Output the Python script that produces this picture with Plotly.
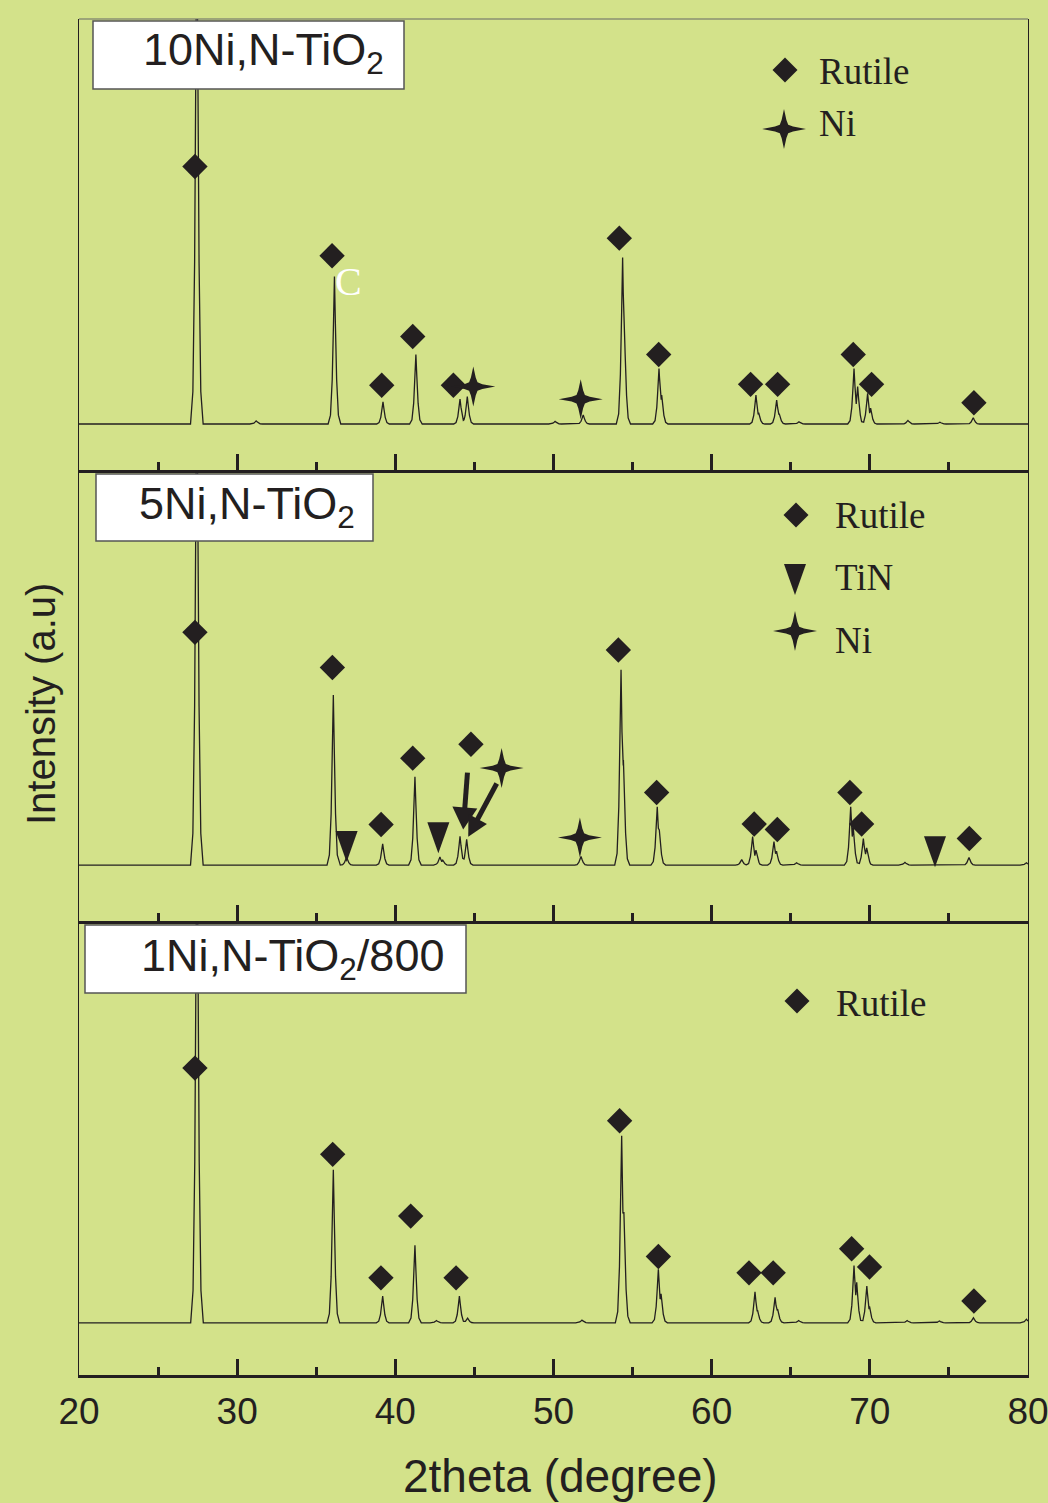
import numpy as np
import plotly.graph_objects as go

# ---------------------------------------------------------------- data
two_theta_range = [20, 80]
tick_values = [20, 30, 40, 50, 60, 70, 80]
tick_labels = ["20", "30", "40", "50", "60", "70", "80"]

sample_names = ["10Ni,N-TiO<sub>2</sub>", "5Ni,N-TiO<sub>2</sub>", "1Ni,N-TiO<sub>2</sub>/800"]

# 10Ni,N-TiO2 : diffraction maxima (2theta, intensity a.u.)
ni10_baseline = 10.2
ni10_peak_pos = [27.45, 31.2, 36.15, 39.22, 41.3, 44.09, 44.55, 50.1, 51.88, 54.37, 54.47,
                 56.67, 56.84, 62.8, 62.97, 64.11, 64.27, 65.52, 69.0, 69.23, 69.86, 70.05,
                 72.41, 74.43, 76.54]
ni10_peak_int = [130, 10.9, 42.9, 15.1, 25.6, 15.7, 16.3, 10.8, 12.2, 47.1, 32.9,
                 22.5, 16.6, 16.6, 12.7, 15.5, 12.5, 10.7, 22.5, 18.5, 17.0, 13.7,
                 11.0, 10.6, 11.6]
ni10_rutile_pos = [27.33, 36.0, 39.14, 41.1, 43.67, 54.16, 56.65, 62.46, 64.17, 68.95, 70.11, 76.58]
ni10_rutile_int = [67.3, 47.5, 18.8, 29.6, 18.8, 51.4, 25.6, 19.0, 19.0, 25.6, 19.0, 14.9]
ni10_ni_pos = [44.93, 51.72]
ni10_ni_int = [18.5, 15.7]

# 5Ni,N-TiO2
ni5_baseline = 12.4
ni5_peak_pos = [27.45, 36.08, 36.92, 39.2, 41.24, 42.82, 43.0, 44.09, 44.51, 51.74, 54.27,
                54.42, 56.56, 56.69, 61.9, 62.59, 62.8, 63.94, 64.1, 65.37, 68.79, 68.95,
                69.59, 69.8, 72.22, 76.27, 79.9]
ni5_peak_int = [130, 50.1, 14.2, 17.1, 32.0, 14.2, 13.5, 18.8, 18.1, 14.3, 55.7,
                35.7, 25.3, 20.2, 13.6, 18.7, 15.7, 17.6, 15.5, 12.9, 25.3, 20.9,
                18.3, 16.2, 13.0, 14.1, 12.9]
ni5_rutile_pos = [27.33, 36.02, 39.1, 41.1, 44.78, 54.1, 56.52, 62.69, 64.15, 68.74, 69.48, 76.29]
ni5_rutile_int = [64.0, 56.2, 21.4, 36.1, 39.2, 60.1, 28.5, 21.5, 20.3, 28.5, 21.5, 18.3]
ni5_tin_pos = [36.92, 42.72, 74.12]
ni5_tin_int = [13.1, 15.0, 11.9]
ni5_ni_pos = [46.72, 51.67]
ni5_ni_int = [33.9, 18.5]
# pointer arrows from the markers to the doublet near 44 deg
ni5_arrow_from_pos = [44.56, 46.41]
ni5_arrow_from_int = [32.9, 30.5]
ni5_arrow_to_pos = [44.29, 44.61]
ni5_arrow_to_int = [20.3, 18.7]

# 1Ni,N-TiO2/800
ni1_baseline = 11.5
ni1_peak_pos = [27.46, 36.08, 39.2, 41.24, 42.6, 44.05, 44.57, 51.8, 54.31, 54.45, 56.63,
                56.8, 62.74, 62.9, 64.01, 64.17, 65.5, 69.0, 69.17, 69.81, 69.98, 72.36,
                74.4, 76.55, 79.9]
ni1_peak_int = [130, 45.2, 17.4, 28.6, 12.0, 17.4, 12.5, 12.1, 52.7, 35.9, 23.3,
                17.9, 18.3, 14.3, 17.1, 14.5, 12.0, 24.1, 20.4, 19.6, 15.1, 12.0,
                11.9, 12.6, 12.3]
ni1_rutile_pos = [27.33, 36.04, 39.09, 40.97, 43.84, 54.18, 56.63, 62.36, 63.89, 68.85, 69.98, 76.58]
ni1_rutile_int = [67.6, 48.6, 21.4, 35.0, 21.4, 56.0, 26.1, 22.5, 22.5, 27.8, 23.8, 16.3]

# ---------------------------------------------------------------- style
INK = "#231f20"
GREEN = "#d3e28a"
SANS = "Liberation Sans, Arial, sans-serif"
SERIF = "Liberation Serif, Times New Roman, serif"

W, H = 1048, 1503
PLOT_L, PLOT_R = 79, 1028
PANEL_EDGES = [19, 470, 921, 1375]   # pixel rows of the panel borders
Y_RANGE = [0, 100]

# narrow reflection profile (offset in deg, fraction of height)
PROFILE_DX = np.array([-0.40, -0.25, -0.14, -0.06, 0.0, 0.06, 0.14, 0.25, 0.40])
PROFILE_F = np.array([0.0, 0.06, 0.30, 0.68, 1.0, 0.68, 0.30, 0.06, 0.0])

STAR = ("M -22 0 L -9 2.4 L -4.2 4.2 L -2.4 9 L 0 20 L 2.4 9 L 4.2 4.2 L 9 2.4 L 22 0 "
        "L 9 -2.4 L 4.2 -4.2 L 2.4 -9 L 0 -20 L -2.4 -9 L -4.2 -4.2 L -9 -2.4 Z")
TRIANGLE = "M -11 31 L 11 31 L 0 0 Z"
DIAMOND = "M -12.5 0 L 0 12.5 L 12.5 0 L 0 -12.5 Z"
ARROW_W = 5                      # shaft width, px
ARROW_HEADS = [(22, 25), (20, 21)]   # (length, width) of each arrow head, px


def paper_x(px):
    return (px - PLOT_L) / (PLOT_R - PLOT_L)


def paper_y(py):
    return (PANEL_EDGES[-1] - py) / (PANEL_EDGES[-1] - PANEL_EDGES[0])


def pattern(baseline, pos, inten):
    """Polyline of the diffractogram: upper envelope of narrow peaks on a flat baseline."""
    xs = [two_theta_range[0], two_theta_range[1]]
    for p in pos:
        xs.extend(p + PROFILE_DX)
    xs = np.unique(np.clip(xs, *two_theta_range))
    ys = np.full_like(xs, baseline)
    for p, h in zip(pos, inten):
        prof = np.interp(xs, p + PROFILE_DX, PROFILE_F, left=0.0, right=0.0)
        ys = np.maximum(ys, baseline + (h - baseline) * prof)
    return xs, ys


panels = [
    dict(base=ni10_baseline, pos=ni10_peak_pos, inten=ni10_peak_int,
         rut=(ni10_rutile_pos, ni10_rutile_int), ni=(ni10_ni_pos, ni10_ni_int), tin=None),
    dict(base=ni5_baseline, pos=ni5_peak_pos, inten=ni5_peak_int,
         rut=(ni5_rutile_pos, ni5_rutile_int), ni=(ni5_ni_pos, ni5_ni_int),
         tin=(ni5_tin_pos, ni5_tin_int)),
    dict(base=ni1_baseline, pos=ni1_peak_pos, inten=ni1_peak_int,
         rut=(ni1_rutile_pos, ni1_rutile_int), ni=None, tin=None),
]

# sample label boxes: (left, top, right, bottom, text left, text middle) in px
label_boxes = [(93, 21, 404, 89, 141, 53), (96, 474, 373, 541, 137, 506),
               (85, 925, 466, 993, 139, 958)]

# phase keys per panel: (symbol, symbol x, symbol y, text x, text y, text)
keys = [
    [("diamond", 785, 70, 817, 72, "Rutile"), ("star", 784, 129, 817, 124, "Ni")],
    [("diamond", 796, 515, 833, 515, "Rutile"), ("triangle", 795, 595, 833, 577, "TiN"),
     ("star", 795, 631, 833, 640, "Ni")],
    [("diamond", 797, 1001, 834, 1003, "Rutile")],
]

fig = go.Figure()
layout = dict(
    width=W, height=H,
    margin=dict(l=PLOT_L, r=W - PLOT_R, t=PANEL_EDGES[0], b=H - PANEL_EDGES[-1], pad=0,
                autoexpand=False),
    paper_bgcolor=GREEN, plot_bgcolor=GREEN,
    showlegend=False,
)
shapes, annotations = [], []

for i, pnl in enumerate(panels):
    n = "" if i == 0 else str(i + 1)
    xa, ya = "x" + n, "y" + n
    last = i == len(panels) - 1

    xs, ys = pattern(pnl["base"], pnl["pos"], pnl["inten"])
    fig.add_trace(go.Scatter(x=xs, y=ys, mode="lines", line=dict(color=INK, width=1.3),
                             xaxis=xa, yaxis=ya, hoverinfo="skip"))
    fig.add_trace(go.Scatter(x=pnl["rut"][0], y=pnl["rut"][1], mode="markers",
                             marker=dict(symbol="diamond", size=19.5, color=INK, line_width=0),
                             xaxis=xa, yaxis=ya, hoverinfo="skip"))
    for sym_path, series in ((STAR, pnl["ni"]), (TRIANGLE, pnl["tin"])):
        if series is None:
            continue
        for x, y in zip(*series):
            shapes.append(dict(type="path", path=sym_path, xref=xa, yref=ya,
                               xsizemode="pixel", ysizemode="pixel", xanchor=x, yanchor=y,
                               fillcolor=INK, line=dict(width=0), layer="above"))

    layout["xaxis" + n] = dict(
        domain=[0, 1], anchor=ya, range=two_theta_range, automargin=False,
        showline=True, linewidth=3, linecolor=INK,
        ticks="inside", ticklen=16, tickwidth=2.5, tickcolor=INK,
        tickvals=tick_values, ticktext=tick_labels,
        showticklabels=last, tickfont=dict(family=SANS, size=37, color=INK),
        ticklabelstandoff=2, ticklabeloverflow="allow",
        minor=dict(ticks="inside", ticklen=8, tickwidth=2.5, tickcolor=INK,
                   tick0=20, dtick=5, showgrid=False),
        showgrid=False, zeroline=False,
    )
    layout["yaxis" + n] = dict(
        domain=[paper_y(PANEL_EDGES[i + 1]), paper_y(PANEL_EDGES[i])], anchor=xa,
        range=Y_RANGE, showline=True, linewidth=1.2, linecolor=INK, mirror=True,
        automargin=False,
        ticks="", showticklabels=False, showgrid=False, zeroline=False,
    )

    # sample label
    l, t, r, b, tx, ty = label_boxes[i]
    shapes.append(dict(type="rect", xref="paper", yref="paper",
                       x0=paper_x(l), x1=paper_x(r), y0=paper_y(b), y1=paper_y(t),
                       fillcolor="white", line=dict(color="#555555", width=1.5), layer="above"))
    annotations.append(dict(text=sample_names[i], xref="paper", yref="paper",
                            x=paper_x(tx), y=paper_y(ty), xanchor="left", yanchor="middle",
                            showarrow=False, font=dict(family=SANS, size=45, color=INK)))

    # phase keys
    for sym, sx, sy, tx, ty, txt in keys[i]:
        path = {"diamond": DIAMOND, "star": STAR, "triangle": TRIANGLE}[sym]
        shapes.append(dict(type="path", path=path, xref="paper", yref="paper",
                           xsizemode="pixel", ysizemode="pixel",
                           xanchor=paper_x(sx), yanchor=paper_y(sy),
                           fillcolor=INK, line=dict(width=0), layer="above"))
        annotations.append(dict(text=txt, xref="paper", yref="paper",
                                x=paper_x(tx), y=paper_y(ty), xanchor="left", yanchor="middle",
                                showarrow=False, font=dict(family=SERIF, size=37, color=INK)))

# top border of the upper panel
shapes.append(dict(type="line", xref="paper", yref="paper", x0=0, x1=1, y0=1, y1=1,
                   line=dict(color="#666666", width=1.2), layer="above"))

# pointer arrows in the 5Ni panel: shaft (line) + filled head anchored at the tip
px_per_deg = (PLOT_R - PLOT_L) / (two_theta_range[1] - two_theta_range[0])
px_per_unit = (PANEL_EDGES[2] - PANEL_EDGES[1]) / (Y_RANGE[1] - Y_RANGE[0])
for (fx, fy, tx, ty), (head_len, head_w) in zip(
        zip(ni5_arrow_from_pos, ni5_arrow_from_int, ni5_arrow_to_pos, ni5_arrow_to_int),
        ARROW_HEADS):
    dx, dy = (tx - fx) * px_per_deg, (ty - fy) * px_per_unit   # screen px, y up
    norm = np.hypot(dx, dy)
    ux, uy = dx / norm, dy / norm
    bx, by = -ux * head_len, -uy * head_len                     # head base centre
    px_, py_ = -uy * head_w / 2, ux * head_w / 2
    head = "M 0 0 L {:.2f} {:.2f} L {:.2f} {:.2f} Z".format(bx + px_, by + py_, bx - px_, by - py_)
    shapes.append(dict(type="line", xref="x2", yref="y2", x0=fx, y0=fy,
                       x1=tx + (bx + ux * 2) / px_per_deg, y1=ty + (by + uy * 2) / px_per_unit,
                       line=dict(color=INK, width=ARROW_W), layer="above"))
    shapes.append(dict(type="path", path=head, xref="x2", yref="y2",
                       xsizemode="pixel", ysizemode="pixel", xanchor=tx, yanchor=ty,
                       fillcolor=INK, line=dict(width=0), layer="above"))

# white "C" mark beside the 36 deg reflection
annotations.append(dict(text="C", xref="paper", yref="paper", x=paper_x(348), y=paper_y(281),
                        xanchor="center", yanchor="middle", showarrow=False,
                        font=dict(family=SERIF, size=40, color="white")))

# axis titles
annotations.append(dict(text="2theta (degree)", xref="paper", yref="paper",
                        x=paper_x(560), y=paper_y(1476), xanchor="center", yanchor="middle",
                        showarrow=False, font=dict(family=SANS, size=46, color=INK)))
annotations.append(dict(text="Intensity (a.u)", xref="paper", yref="paper",
                        x=paper_x(41), y=paper_y(704), xanchor="center", yanchor="middle",
                        textangle=-90, showarrow=False, font=dict(family=SANS, size=40, color=INK)))

layout["shapes"] = shapes
layout["annotations"] = annotations
fig.update_layout(**layout)

fig.write_html("out.html")
